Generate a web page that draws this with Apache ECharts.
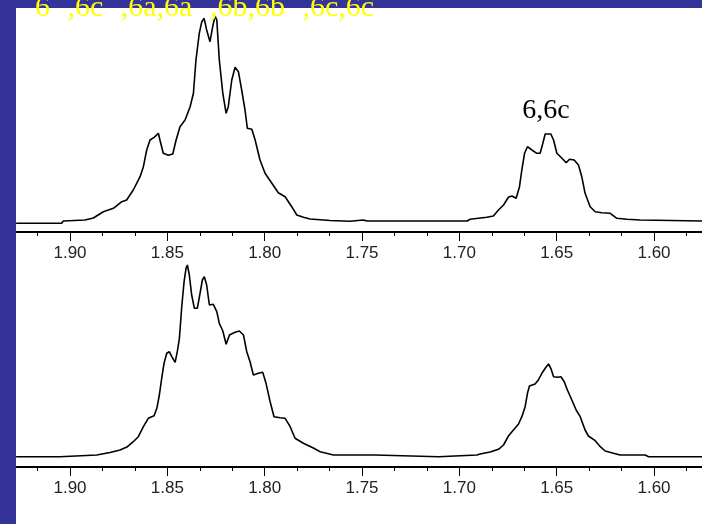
<!DOCTYPE html>
<html><head><meta charset="utf-8">
<script src="https://cdn.jsdelivr.net/npm/echarts@6/dist/echarts.min.js"></script>
<style>html,body{margin:0;padding:0;background:#333399;overflow:hidden;width:702px;height:524px;position:relative}
#c{position:absolute;left:-44px;top:0;width:800px;height:524px}</style>
</head><body><div id="c"></div>
<script>
// axis scale (ppm, decreasing to the right); the visible window is 1.9277 .. 1.5752
const axisMin = 1.55, axisMax = 1.95, axisInterval = 0.05;
const tickLabels = [1.90, 1.85, 1.80, 1.75, 1.70, 1.65, 1.60];
const topTitle = "6´ ,6c´ ,6a,6a´ ,6b,6b´ ,6c,6c´";
const peakLabel = "6,6c";

const topPpm = [1.9277,1.9043,1.9034,1.8923,1.8880,1.8829,1.8777,1.8734,1.8709,1.8675,1.8640,1.8623,1.8606,1.8589,1.8568,1.8546,1.8538,1.8521,1.8495,1.8472,1.8455,1.8435,1.8409,1.8383,1.8366,1.8353,1.8336,1.8323,1.8311,1.8298,1.8281,1.8267,1.8255,1.8246,1.8233,1.8215,1.8198,1.8187,1.8169,1.8152,1.8135,1.8118,1.8101,1.8089,1.8066,1.8049,1.8024,1.7998,1.7963,1.7930,1.7895,1.7861,1.7835,1.7801,1.7767,1.7664,1.7561,1.7494,1.7474,1.6960,1.6945,1.6902,1.6859,1.6825,1.6799,1.6773,1.6748,1.6730,1.6708,1.6691,1.6679,1.6665,1.6650,1.6627,1.6602,1.6585,1.6571,1.6559,1.6530,1.6516,1.6499,1.6473,1.6451,1.6434,1.6410,1.6388,1.6371,1.6354,1.6328,1.6302,1.6268,1.6225,1.6191,1.6139,1.6071,1.5752];
const topIntensity = [8.7,8.7,11,12,14,20.3,23.7,30.3,32,42,55.3,65.3,82,92,94.7,98.7,92,78.7,76.7,78,92,105.3,112,125.3,138.7,172,198.7,210.3,213.7,202,190.3,205.3,216,212,172,138.7,118.7,125.3,152,164.7,160.3,142,122,103.7,102.7,92,72,58.7,48.7,39.3,35.3,25.3,17,14.7,13,11.5,10.7,12,11,11,12.7,13.7,14.7,16,22,27,34.7,36,33.7,45.3,62,78.7,85.3,82,78.7,78.7,88.7,98,98,92,78.7,73.7,69.3,72.7,72,67,55.3,38.7,25.3,20.3,19.3,18.7,13.7,12.7,12,11];

const bottomPpm = [1.9277,1.9051,1.9043,1.8863,1.8855,1.8794,1.8743,1.8705,1.8675,1.8649,1.8623,1.8598,1.8568,1.8554,1.8541,1.8529,1.8517,1.8503,1.8490,1.8477,1.8460,1.8449,1.8438,1.8426,1.8414,1.8404,1.8397,1.8387,1.8375,1.8361,1.8346,1.8332,1.8320,1.8310,1.8298,1.8284,1.8264,1.8246,1.8233,1.8215,1.8198,1.8181,1.8152,1.8130,1.8109,1.8092,1.8075,1.8058,1.8032,1.8010,1.7993,1.7972,1.7952,1.7921,1.7895,1.7869,1.7844,1.7801,1.7750,1.7715,1.7647,1.7433,1.7424,1.7107,1.7099,1.6910,1.6893,1.6842,1.6799,1.6773,1.6748,1.6722,1.6696,1.6679,1.6662,1.6650,1.6640,1.6611,1.6594,1.6576,1.6559,1.6542,1.6530,1.6516,1.6496,1.6478,1.6461,1.6445,1.6422,1.6400,1.6379,1.6354,1.6337,1.6302,1.6276,1.6251,1.6208,1.6174,1.6045,1.6028,1.5752];
const bottomIntensity = [10.3,10.3,12,12,13,14.5,17,20.3,25.3,30.3,40.3,48.7,51.3,58.7,72,88.7,103.7,113.7,115.3,110.3,104.7,115.3,128.7,160.3,185.3,198.7,202,192,172,158.7,158.7,173.7,187,190.3,182,162,162.7,155.3,143.7,136,122.7,132,134.7,136,132,115.3,105.3,92,93.7,94.7,83.7,65.3,50.3,49.3,48.7,40.3,28.7,23.7,19,15.3,12,12,10.3,10.3,12,12,13,15,17.7,22,31,37,43,50.3,60.3,73.7,81,83,87,93.7,98.7,103,98.7,90.3,89.7,90.3,85.3,77,67,57,50.3,37,31,26.3,20.3,16,13.7,12,12,10.3,10.3];

function pairs(xs, ys) { return xs.map((x, i) => [x, ys[i]]); }

// chart canvas is shifted 44px left of the page so the axis can run past both edges
const OFF = 44;

function xAx(gi) {
  return {
    type: 'value', gridIndex: gi, min: axisMin, max: axisMax, interval: axisInterval, inverse: true,
    position: 'bottom',
    axisLine: { show: true, onZero: false, lineStyle: { color: '#000', width: 2 } },
    axisTick: { show: true, length: 9, lineStyle: { color: '#000', width: 1 } },
    minorTick: { show: true, splitNumber: 3, length: 4, lineStyle: { color: '#000', width: 1 } },
    axisLabel: { show: true, margin: 13, color: '#222', showMinLabel: false, showMaxLabel: false,
      fontFamily: 'Liberation Sans', fontSize: 17,
      formatter: v => (tickLabels.some(t => Math.abs(t - v) < 1e-6) ? v.toFixed(2) : '') },
    splitLine: { show: false }, minorSplitLine: { show: false }
  };
}
const yAx = gi => ({ type: 'value', gridIndex: gi, min: 0, max: 224, show: false });

const chart = echarts.init(document.getElementById('c'), null, { renderer: 'canvas' });
chart.setOption({
  backgroundColor: '#333399',
  animation: false,
  grid: [
    { left: OFF - 27.33, width: 778.67, top: 8, height: 224 },
    { left: OFF - 27.33, width: 778.67, top: 243, height: 224 }
  ],
  xAxis: [xAx(0), xAx(1)],
  yAxis: [yAx(0), yAx(1)],
  graphic: [
    { type: 'rect', z: -10, silent: true, shape: { x: OFF + 16, y: 8, width: 740, height: 516 }, style: { fill: '#fff' } },
    { type: 'rect', z: 90, silent: true, shape: { x: 0, y: 0, width: OFF + 16, height: 524 }, style: { fill: '#333399' } },
    { type: 'text', z: 100, style: { text: topTitle, x: OFF + 35, y: 8, fill: '#ffff00',
      font: '30px "Liberation Serif"', verticalAlign: 'middle', align: 'left' } },
    { type: 'text', z: 100, style: { text: peakLabel, x: OFF + 546, y: 110.5, fill: '#000',
      font: '28px "Liberation Serif"', verticalAlign: 'middle', align: 'center' } }
  ],
  series: [
    { type: 'line', xAxisIndex: 0, yAxisIndex: 0, data: pairs(topPpm, topIntensity),
      showSymbol: false, lineStyle: { color: '#000', width: 1.6 }, z: 5 },
    { type: 'line', xAxisIndex: 1, yAxisIndex: 1, data: pairs(bottomPpm, bottomIntensity),
      showSymbol: false, lineStyle: { color: '#000', width: 1.6 }, z: 5 }
  ]
});
</script></body></html>
